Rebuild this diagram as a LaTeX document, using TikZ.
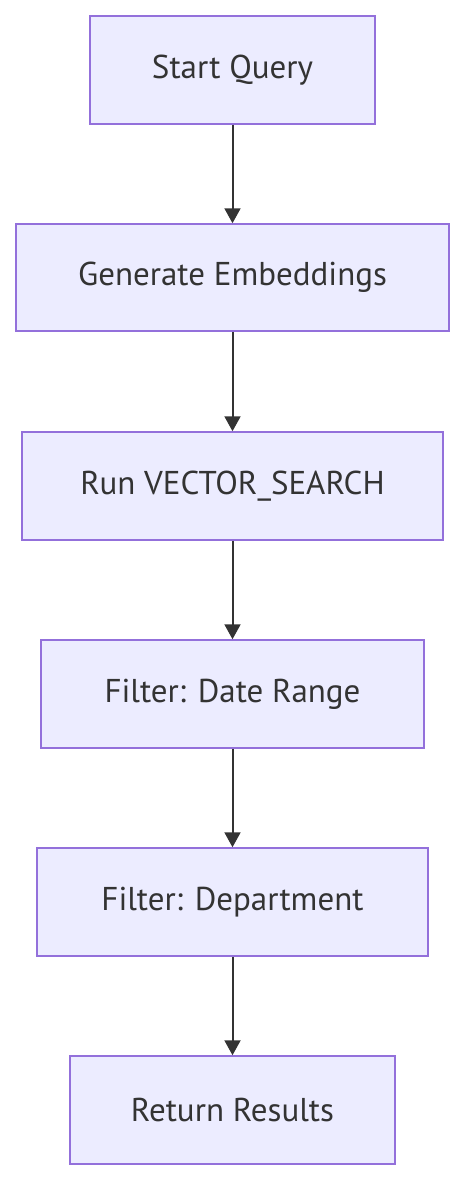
\documentclass[tikz,border=0pt]{standalone}
\usepackage{fontspec}
\setmainfont{PT Sans}
\usetikzlibrary{arrows.meta}
\definecolor{boxfill}{HTML}{ECECFF}
\definecolor{boxline}{HTML}{9370DB}
\definecolor{ink}{HTML}{333333}
\tikzset{
  flowbox/.style={draw=boxline, fill=boxfill, line width=1.5pt, text=ink,
    font=\fontsize{33}{40}\selectfont, inner sep=0pt, anchor=center},
  flowarrow/.style={draw=ink, line width=2pt, -{Triangle[length=15pt,width=16pt]}}
}
\begin{document}
\begin{tikzpicture}[x=1pt,y=-1pt]
\useasboundingbox (0,0) rectangle (466,1180);
\node[flowbox, minimum width=285pt, minimum height=108pt] (a) at (232.5,70) {Start Query};
\node[flowbox, minimum width=433pt, minimum height=107pt] (b) at (232.5,277.5) {Generate Embeddings};
\node[flowbox, minimum width=421pt, minimum height=108pt] (c) at (232.5,486) {Run VECTOR\_SEARCH};
\node[flowbox, minimum width=383pt, minimum height=108pt] (d) at (232.5,694) {Filter: Date Range};
\node[flowbox, minimum width=391pt, minimum height=108pt] (e) at (232.5,902) {Filter: Department};
\node[flowbox, minimum width=325pt, minimum height=108pt] (f) at (232.5,1110) {Return Results};
\draw[flowarrow] (a) -- (b);
\draw[flowarrow] (b) -- (c);
\draw[flowarrow] (c) -- (d);
\draw[flowarrow] (d) -- (e);
\draw[flowarrow] (e) -- (f);
\end{tikzpicture}
\end{document}
